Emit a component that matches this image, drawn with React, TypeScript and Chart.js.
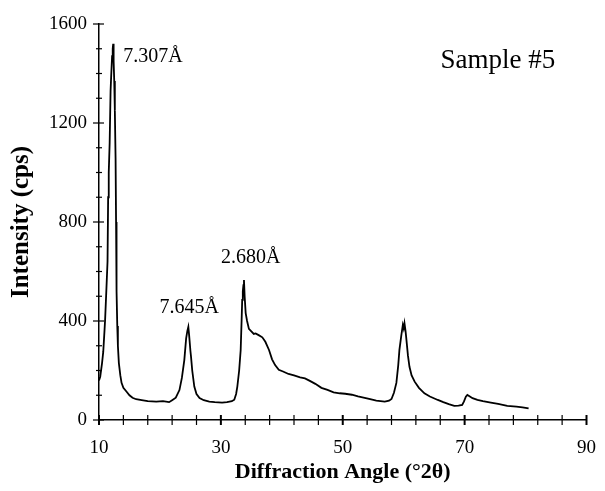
import React, { useEffect, useRef } from "react";
import { Chart, registerables } from "chart.js";

Chart.register(...registerables);

const angles = [
  10.0, 10.2, 10.5, 10.7, 10.9, 11.0, 11.2, 11.4, 11.5, 11.6, 11.75, 11.9, 12.0, 12.15, 12.25, 12.33,
  12.4, 12.5, 12.6, 12.72, 12.8, 12.88, 13.0, 13.1, 13.26, 13.5, 13.7, 14.0, 14.5, 15.0, 15.5, 16.1,
  17.0, 18.0, 19.4, 20.5, 21.5, 22.0, 22.6, 23.2, 23.6, 24.0, 24.3, 24.5, 24.66, 24.8, 25.0, 25.1,
  25.3, 25.64, 26.0, 26.5, 27.2, 28.1, 29.0, 30.2, 31.0, 31.8, 32.2, 32.5, 32.7, 33.0, 33.25, 33.4,
  33.5, 33.6, 33.7, 33.79, 33.9, 34.07, 34.3, 34.6, 35.0, 35.4, 35.7, 36.2, 36.8, 37.3, 37.9, 38.4,
  38.9, 39.5, 40.2, 41.1, 42.0, 43.0, 43.8, 44.6, 45.5, 46.5, 47.5, 48.5, 49.5, 50.4, 51.5, 52.5,
  53.6, 54.5, 55.5, 56.9, 57.6, 58.0, 58.4, 58.8, 59.1, 59.3, 59.6, 59.86, 60.0, 60.13, 60.3, 60.4,
  60.7, 60.95, 61.3, 61.8, 62.5, 63.4, 64.3, 65.6, 66.5, 67.4, 68.3, 69.0, 69.6, 69.9, 70.2, 70.45,
  70.8, 71.3, 72.1, 73.0, 74.3, 75.5, 77.0, 78.5, 79.5, 80.5,
];

const intensity = [
  160, 175, 230, 276, 360, 404, 520, 640, 900, 1000, 1120, 1330, 1390, 1470, 1500, 1520,
  1450, 1370, 1250, 1060, 800, 520, 380, 300, 230, 180, 150, 130, 115, 100, 90, 84,
  80, 76, 74, 76, 72, 80, 90, 121, 170, 242, 330, 360, 376, 340, 280, 256,
  200, 135, 105, 89, 80, 74, 72, 70, 72, 76, 82, 105, 135, 200, 283, 400,
  485, 520, 545, 566, 500, 432, 400, 368, 358, 348, 350, 343, 334, 316, 283, 245,
  222, 203, 196, 186, 180, 172, 168, 158, 146, 130, 122, 112, 108, 106, 102, 95,
  89, 84, 78, 74, 78, 85, 110, 150, 220, 283, 340, 384, 370, 391, 360, 337,
  260, 215, 180, 155, 130, 108, 95, 81, 72, 64, 57, 58, 61, 75, 94, 101,
  96, 88, 81, 76, 70, 65, 57, 54, 51, 47,
];

const xTickStep = 4;
const xLabelEvery = 20;
const yTickStep = 100;
const yLabelEvery = 400;

const peakLabels = ["7.307Å", "7.645Å", "2.680Å"];
const peakLabelAngles = [13.99, 24.8, 34.9];
const peakLabelIntensities = [1446, 432, 634];

const sampleTitle = "Sample #5";
const sampleTitleAngle = 66.05;
const sampleTitleIntensity = 1422;

const FONT = "'Liberation Serif', 'Times New Roman', serif";

const crossTicksPlugin = {
  id: "crossTicks",
  afterDraw(chart: any) {
    const ctx = chart.ctx;
    const xs = chart.scales.x;
    const ys = chart.scales.y;
    ctx.save();
    ctx.strokeStyle = "#000";
    xs.ticks.forEach((t: any) => {
      const px = xs.getPixelForValue(t.value);
      const major = (t.value - 10) % xLabelEvery === 0;
      ctx.lineWidth = major ? 2 : 1.2;
      const y0 = xs.top;
      ctx.beginPath();
      ctx.moveTo(px, y0 - 5);
      ctx.lineTo(px, y0 + 5);
      ctx.stroke();
    });
    ys.ticks.forEach((t: any) => {
      const py = ys.getPixelForValue(t.value);
      const major = t.value % yLabelEvery === 0;
      ctx.lineWidth = 1.2;
      const x0 = ys.right;
      ctx.beginPath();
      ctx.moveTo(x0 - (major ? 6 : 3), py);
      ctx.lineTo(x0 + (major ? 5 : 3), py);
      ctx.stroke();
    });
    ctx.restore();
  },
};

const labelsPlugin = {
  id: "peakLabels",
  afterDatasetsDraw(chart: any) {
    const ctx = chart.ctx;
    const xs = chart.scales.x;
    const ys = chart.scales.y;
    ctx.save();
    ctx.fillStyle = "#000";
    ctx.textBaseline = "alphabetic";
    ctx.font = `20px ${FONT}`;
    peakLabels.forEach((txt, i) => {
      ctx.textAlign = i === 0 ? "left" : "center";
      ctx.fillText(txt, xs.getPixelForValue(peakLabelAngles[i]), ys.getPixelForValue(peakLabelIntensities[i]));
    });
    ctx.font = `27px ${FONT}`;
    ctx.textAlign = "left";
    ctx.fillText(sampleTitle, xs.getPixelForValue(sampleTitleAngle), ys.getPixelForValue(sampleTitleIntensity));
    ctx.restore();
  },
};

export default function App() {
  const ref = useRef<HTMLCanvasElement | null>(null);

  useEffect(() => {
    if (!ref.current) return;
    const chart = new Chart(ref.current, {
      type: "line",
      data: {
        datasets: [
          {
            data: angles.map((a, i) => ({ x: a, y: intensity[i] })),
            borderColor: "#000",
            borderWidth: 1.8,
            pointRadius: 0,
            tension: 0,
            fill: false,
          },
        ],
      },
      options: {
        animation: false,
        responsive: true,
        maintainAspectRatio: false,
        layout: { padding: { top: 24, right: 7, left: 0, bottom: 0 } },
        plugins: {
          legend: { display: false },
          tooltip: { enabled: false },
        },
        scales: {
          x: {
            type: "linear",
            min: 10,
            max: 90,
            afterFit: (s: any) => {
              s.height = 71;
            },
            ticks: {
              stepSize: xTickStep,
              autoSkip: false,
              maxRotation: 0,
              padding: 9,
              color: "#000",
              font: { family: FONT, size: 19 },
              callback: (v: any) => ((Number(v) - 10) % xLabelEvery === 0 ? String(v) : ""),
            },
            grid: { display: false },
            border: { display: true, color: "#000", width: 1.5 },
            title: {
              display: true,
              text: "Diffraction Angle (°2θ)",
              color: "#000",
              font: { family: FONT, size: 22, weight: "bold" },
              padding: { top: 0, bottom: 5 },
            },
          },
          y: {
            type: "linear",
            min: 0,
            max: 1600,
            afterFit: (s: any) => {
              s.width = 99;
            },
            ticks: {
              stepSize: yTickStep,
              autoSkip: false,
              padding: 4,
              color: "#000",
              font: { family: FONT, size: 19 },
              callback: (v: any) => (Number(v) % yLabelEvery === 0 ? String(v) : ""),
            },
            grid: { display: false },
            border: { display: true, color: "#000", width: 1.5 },
            title: {
              display: true,
              text: "Intensity (cps)",
              color: "#000",
              font: { family: FONT, size: 25, weight: "bold" },
              padding: { top: 7, bottom: 0 },
            },
          },
        },
      },
      plugins: [crossTicksPlugin, labelsPlugin],
    });
    return () => chart.destroy();
  }, []);

  return (
    <div style={{ position: "absolute", left: 0, top: 0, width: 605, height: 491, background: "#fff" }}>
      <canvas ref={ref} />
    </div>
  );
}
